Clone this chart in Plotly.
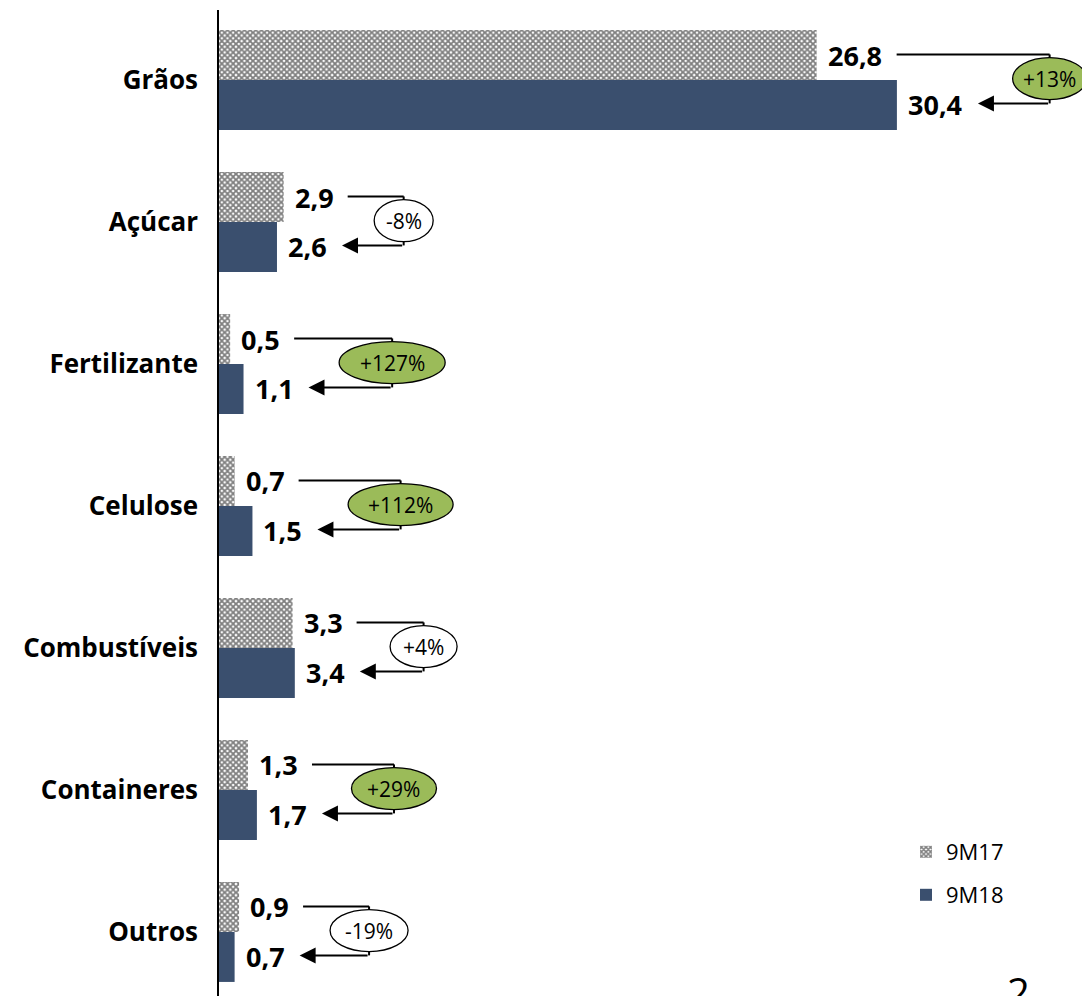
import plotly.graph_objects as go

# ---------------- data ----------------
categories = ["Grãos", "Açúcar", "Fertilizante", "Celulose", "Combustíveis", "Containeres", "Outros"]
series_names = ["9M17", "9M18"]
values_9m17 = [26.8, 2.9, 0.5, 0.7, 3.3, 1.3, 0.9]
values_9m18 = [30.4, 2.6, 1.1, 1.5, 3.4, 1.7, 0.7]
change_labels = ["+13%", "-8%", "+127%", "+112%", "+4%", "+29%", "-19%"]
page_number = "2"

# ---------------- layout / style ----------------
W, H = 1082, 996
M_L, M_T = 219, 10
PLOT_W = W - M_L
XMAX = 38.7
PPU = PLOT_W / XMAX          # pixels per data unit on x
BAR_W = 0.352
Y_RANGE = [6.451, -0.493]
FONT = "Open Sans"
NAVY = "#3A4F6E"
GREEN = "#9BBB59"

bracket_len_px = [153, 56, 98, 102, 67, 82, 66]
ellipse_w_px = [74, 59, 106, 105, 67, 85, 78]
ELL_H = 42

ypos = list(range(len(categories)))


def fmt(v):
    return f"{v:.1f}".replace(".", ",")


fig = go.Figure()
fig.add_trace(go.Bar(
    y=ypos, x=values_9m17, orientation="h", name=series_names[0],
    offset=-BAR_W, width=BAR_W,
    marker=dict(color="white", line=dict(width=0),
                pattern=dict(shape="x", fgcolor="black", bgcolor="white", size=4, solidity=0.7)),
    legend="legend", hoverinfo="skip",
))
fig.add_trace(go.Bar(
    y=ypos, x=values_9m18, orientation="h", name=series_names[1],
    offset=0, width=BAR_W,
    marker=dict(color=NAVY, line=dict(width=0)),
    legend="legend2", hoverinfo="skip",
))

annotations = []
shapes = []
lab_font = dict(family=FONT, size=27, color="black", weight="bold")
for i in ypos:
    v1, v2 = values_9m17[i], values_9m18[i]
    l1, l2 = fmt(v1), fmt(v2)
    y1 = i - BAR_W / 2
    y2 = i + BAR_W / 2
    annotations.append(dict(x=v1, y=y1, xref="x", yref="y", text=l1, showarrow=False,
                            xanchor="left", xshift=9, font=lab_font))
    annotations.append(dict(x=v2, y=y2, xref="x", yref="y", text=l2, showarrow=False,
                            xanchor="left", xshift=9, font=lab_font))
    s1 = 16 * (len(l1) + 1)
    t2 = 16 * len(l2) + 17
    x_start = v1 + s1 / PPU
    x_b = v1 + (s1 + bracket_len_px[i]) / PPU
    x_tip = v2 + t2 / PPU
    y_top = i - 0.18
    y_bot = i + 0.165
    shapes.append(dict(type="line", xref="x", yref="y", x0=x_start, x1=x_b, y0=y_top, y1=y_top,
                       line=dict(color="black", width=2)))
    shapes.append(dict(type="line", xref="x", yref="y", x0=x_b, x1=x_b, y0=y_top, y1=y_bot,
                       line=dict(color="black", width=2)))
    annotations.append(dict(x=x_tip, y=y_bot, xref="x", yref="y", ax=x_b, ay=y_bot,
                            axref="x", ayref="y", text="", showarrow=True,
                            arrowhead=2, arrowsize=1.6, arrowwidth=2, arrowcolor="black",
                            standoff=0, startstandoff=0))
    pct = float(change_labels[i].replace("%", "").replace("+", ""))
    fill = GREEN if pct > 10 else "white"
    shapes.append(dict(type="circle", xref="x", yref="y", xsizemode="pixel", ysizemode="pixel",
                       xanchor=x_b, yanchor=i - 0.01,
                       x0=-ellipse_w_px[i] / 2, x1=ellipse_w_px[i] / 2,
                       y0=-ELL_H / 2, y1=ELL_H / 2,
                       fillcolor=fill, line=dict(color="black", width=1.3), layer="above"))
    annotations.append(dict(x=x_b, y=i - 0.01, xref="x", yref="y", text=change_labels[i],
                            showarrow=False, font=dict(family=FONT, size=21, color="black")))

annotations.append(dict(x=(1018 - M_L) / PLOT_W, y=0, xref="paper", yref="paper", text=page_number,
                        showarrow=False, xanchor="center", yanchor="top", yshift=34,
                        font=dict(family=FONT, size=40, color="black")))

leg_common = dict(font=dict(family=FONT, size=22, color="black"), bgcolor="rgba(0,0,0,0)",
                  xanchor="left", yanchor="middle", borderwidth=0)
plot_h = H - M_T
fig.update_layout(
    width=W, height=H,
    margin=dict(l=M_L, r=0, t=M_T, b=0, pad=0),
    paper_bgcolor="white", plot_bgcolor="white",
    barmode="overlay",
    showlegend=True,
    legend=dict(x=(906 - M_L) / PLOT_W, y=(H - 852) / plot_h, **leg_common),
    legend2=dict(x=(906 - M_L) / PLOT_W, y=(H - 895) / plot_h, **leg_common),
    xaxis=dict(range=[0, XMAX], visible=False, fixedrange=True),
    yaxis=dict(range=Y_RANGE, tickvals=ypos, ticktext=categories,
               tickfont=dict(family=FONT, size=26, color="black", weight="bold"),
               showline=True, linecolor="black", linewidth=1.5,
               showgrid=False, zeroline=False, ticks="outside", ticklen=14,
               tickcolor="rgba(0,0,0,0)", automargin=False, fixedrange=True),
    annotations=annotations,
    shapes=shapes,
)

fig.write_html(
    "out.html",
    config={"displayModeBar": False},
    post_script="document.body.style.margin='0';document.body.style.overflow='hidden';",
)
